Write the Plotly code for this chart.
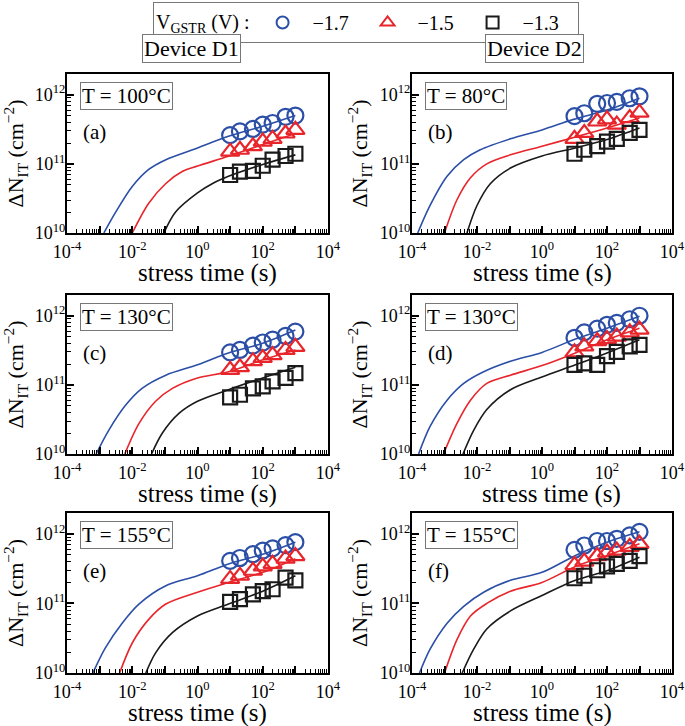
import numpy as np
import plotly.graph_objects as go
from plotly.subplots import make_subplots

# ---------------- data ----------------
t_meas = [10, 20, 50, 100, 200, 500, 1000]
voltages = ["−1.7", "−1.5", "−1.3"]
temps = ["T = 100°C", "T = 80°C", "T = 130°C", "T = 130°C", "T = 155°C", "T = 155°C"]
panel_tags = ["(a)", "(b)", "(c)", "(d)", "(e)", "(f)"]

# measured ΔN_IT (cm^-2): circle (-1.7 V), triangle (-1.5 V), square (-1.3 V)
a_circ = [2.6e11, 2.95e11, 3.2e11, 3.7e11, 3.9e11, 4.8e11, 5.0e11]
a_tri = [1.5e11, 1.6e11, 1.8e11, 2.1e11, 2.3e11, 2.75e11, 3.1e11]
a_sq = [6.9e10, 7.7e10, 7.9e10, 9.4e10, 1.15e11, 1.3e11, 1.4e11]
b_circ = [4.9e11, 5.4e11, 7.4e11, 7.6e11, 7.9e11, 8.9e11, 9.5e11]
b_tri = [2.3e11, 2.8e11, 4.1e11, 4.4e11, 3.7e11, 4.6e11, 5.5e11]
b_sq = [1.4e11, 1.6e11, 1.8e11, 2.1e11, 2.3e11, 2.8e11, 3.1e11]
c_circ = [2.95e11, 3.2e11, 3.7e11, 4.1e11, 4.5e11, 5.1e11, 5.9e11]
c_tri = [1.65e11, 1.8e11, 2.2e11, 2.45e11, 2.7e11, 3.2e11, 3.55e11]
c_sq = [6.6e10, 7.2e10, 8.9e10, 9.5e10, 1.12e11, 1.26e11, 1.48e11]
d_circ = [4.8e11, 5.75e11, 6.5e11, 7.4e11, 7.9e11, 8.9e11, 1.0e12]
d_tri = [2.95e11, 3.6e11, 4.3e11, 4.6e11, 5.0e11, 5.75e11, 6.3e11]
d_sq = [1.95e11, 2.05e11, 1.95e11, 2.6e11, 3.0e11, 3.6e11, 3.8e11]
e_circ = [4.1e11, 4.5e11, 5.1e11, 5.75e11, 6.2e11, 6.9e11, 7.6e11]
e_tri = [2.25e11, 2.5e11, 2.95e11, 3.4e11, 3.7e11, 4.4e11, 4.8e11]
e_sq = [1.05e11, 1.15e11, 1.35e11, 1.5e11, 1.6e11, 2.35e11, 2.15e11]
f_circ = [5.9e11, 6.8e11, 7.9e11, 7.9e11, 8.5e11, 9.5e11, 1.07e12]
f_tri = [3.55e11, 4.0e11, 4.8e11, 5.4e11, 5.75e11, 6.5e11, 7.2e11]
f_sq = [2.3e11, 2.5e11, 3.0e11, 3.4e11, 3.7e11, 4.1e11, 4.8e11]

# model curves (time s, ΔN_IT cm^-2)
a_blue_t = [1.35e-3, 3.1e-3, 1e-2, 3.2e-2, 0.107, 1, 8.9, 100, 1000]
a_blue_n = [1e10, 2.0e10, 4.7e10, 8.3e10, 1.15e11, 1.7e11, 2.5e11, 3.5e11, 5.0e11]
a_red_t = [1e-2, 3.2e-2, 0.107, 0.35, 1, 8.9, 100, 1000]
a_red_n = [1e10, 2.7e10, 5.2e10, 7.8e10, 9.3e10, 1.29e11, 1.9e11, 2.75e11]
a_blk_t = [0.093, 0.21, 1, 2.9, 8.9, 100, 1000]
a_blk_n = [1e10, 2.0e10, 3.8e10, 5.2e10, 6.6e10, 9.8e10, 1.35e11]

b_blue_t = [1.5e-4, 3.6e-4, 1.2e-3, 3.9e-3, 1.26e-2, 0.107, 1, 9.3, 100, 1000]
b_blue_n = [1e10, 2.5e10, 6.6e10, 1.15e11, 1.6e11, 2.3e11, 3.1e11, 4.4e11, 6.0e11, 8.9e11]
b_red_t = [1e-3, 2.4e-3, 6.3e-3, 2.0e-2, 0.107, 1, 10.7, 100, 1000]
b_red_n = [1e10, 3.0e10, 6.3e10, 1.0e11, 1.35e11, 1.8e11, 2.45e11, 3.3e11, 4.6e11]
b_blk_t = [4.9e-3, 1e-2, 2.6e-2, 0.107, 1, 10.7, 100, 1000]
b_blk_n = [1e10, 2.5e10, 5.2e10, 8.7e10, 1.3e11, 1.7e11, 2.25e11, 3.3e11]

c_blue_t = [7.8e-4, 1.9e-3, 6.3e-3, 2.0e-2, 0.107, 1, 8.9, 100, 1000]
c_blue_n = [1e10, 2.2e10, 5.1e10, 8.9e10, 1.38e11, 1.95e11, 2.9e11, 4.0e11, 6.2e11]
c_red_t = [5.9e-3, 1.6e-2, 5.2e-2, 0.17, 1, 8.9, 100, 1000]
c_red_n = [1e10, 2.75e10, 5.8e10, 8.9e10, 1.26e11, 1.55e11, 2.3e11, 3.2e11]
c_blk_t = [3.9e-2, 8.3e-2, 0.275, 1, 8.9, 100, 1000]
c_blk_n = [1e10, 2.0e10, 3.9e10, 5.8e10, 8.5e10, 1.26e11, 1.8e11]

d_blue_t = [1.6e-4, 3.6e-4, 1.2e-3, 3.9e-3, 1.6e-2, 0.107, 1, 10.7, 100, 1000]
d_blue_n = [1e10, 2.5e10, 6.0e10, 1.05e11, 1.55e11, 2.2e11, 2.95e11, 4.6e11, 6.6e11, 9.8e11]
d_red_t = [9.3e-4, 2.4e-3, 6.3e-3, 2.0e-2, 0.107, 1, 10.7, 100, 1000]
d_red_n = [1e10, 2.75e10, 6.0e10, 1.05e11, 1.38e11, 1.9e11, 2.9e11, 4.5e11, 6.6e11]
d_blk_t = [3.7e-3, 7.9e-3, 2.0e-2, 0.107, 1, 10.7, 100, 1000]
d_blk_n = [1e10, 2.2e10, 4.4e10, 8.5e10, 1.3e11, 1.95e11, 2.9e11, 4.5e11]

e_blue_t = [6.2e-4, 1.5e-3, 4.9e-3, 1.6e-2, 0.107, 1, 8.9, 100, 1000]
e_blue_n = [1e10, 2.3e10, 5.2e10, 9.8e10, 1.8e11, 2.5e11, 3.7e11, 5.1e11, 7.6e11]
e_red_t = [4.1e-3, 1e-2, 3.2e-2, 0.107, 1, 8.9, 100, 1000]
e_red_n = [1e10, 2.7e10, 5.9e10, 9.8e10, 1.45e11, 2.0e11, 2.8e11, 4.4e11]
e_blk_t = [2.6e-2, 5.2e-2, 0.17, 1, 8.9, 100, 1000]
e_blk_n = [1e10, 1.95e10, 3.8e10, 6.6e10, 9.8e10, 1.5e11, 2.5e11]

f_blue_t = [1.7e-4, 3.6e-4, 1.2e-3, 3.9e-3, 1.6e-2, 0.107, 1, 10.7, 100, 1000]
f_blue_n = [1e10, 2.2e10, 5.2e10, 9.1e10, 1.45e11, 2.15e11, 2.8e11, 4.9e11, 7.6e11, 1.07e12]
f_red_t = [1e-3, 2.4e-3, 6.3e-3, 2.0e-2, 0.107, 1, 10.7, 100, 1000]
f_red_n = [1e10, 3.0e10, 6.6e10, 1.0e11, 1.5e11, 2.0e11, 3.4e11, 4.9e11, 7.2e11]
f_blk_t = [3.5e-3, 7.9e-3, 2.0e-2, 0.107, 1, 10.7, 100, 1000]
f_blk_n = [1e10, 2.2e10, 4.3e10, 7.8e10, 1.3e11, 2.15e11, 2.95e11, 4.6e11]

x_tick_vals = [1e-4, 1e-3, 1e-2, 1e-1, 1, 10, 100, 1e3, 1e4]
x_tick_text = ["10<sup>-4</sup>", "", "10<sup>-2</sup>", "", "10<sup>0</sup>", "",
               "10<sup>2</sup>", "", "10<sup>4</sup>"]
y_tick_vals = [1e10, 1e11, 1e12]
y_tick_text = ["10<sup>10</sup>", "10<sup>11</sup>", "10<sup>12</sup>"]

# ---------------- styling ----------------
FONT = "Liberation Serif"
BLUE = "#2b4fa6"
RED = "#e8252b"
BLACK = "#1a1a1a"
colors = [BLUE, RED, BLACK]
symbols = ["circle-open", "triangle-up-open", "square-open"]
msizes = [16, 16, 14]
# horizontal shift (px) of each panel's x-axis title, as in the original layout
xtitle_shift = [10, 0, 10, 9, 0, 0]

panels = [
    (a_circ, a_tri, a_sq, [(a_blue_t, a_blue_n), (a_red_t, a_red_n), (a_blk_t, a_blk_n)]),
    (b_circ, b_tri, b_sq, [(b_blue_t, b_blue_n), (b_red_t, b_red_n), (b_blk_t, b_blk_n)]),
    (c_circ, c_tri, c_sq, [(c_blue_t, c_blue_n), (c_red_t, c_red_n), (c_blk_t, c_blk_n)]),
    (d_circ, d_tri, d_sq, [(d_blue_t, d_blue_n), (d_red_t, d_red_n), (d_blk_t, d_blk_n)]),
    (e_circ, e_tri, e_sq, [(e_blue_t, e_blue_n), (e_red_t, e_red_n), (e_blk_t, e_blk_n)]),
    (f_circ, f_tri, f_sq, [(f_blue_t, f_blue_n), (f_red_t, f_red_n), (f_blk_t, f_blk_n)]),
]

fig = make_subplots(rows=3, cols=2)

W, H = 685, 726
ML, MT = 67, 74
MR = W - 672
MB = H - 673
PW, PH = W - ML - MR, H - MT - MB

def px_x(x):
    return (x - ML) / PW

def px_y(y):
    return (H - MB - y) / PH

col_px = [(67, 328), (412, 672)]
row_px = [(74, 233), (295, 454), (513, 673)]

minor_x = [m * 10.0 ** k for k in range(-4, 4) for m in range(2, 10)]
minor_y = [m * 10.0 ** k for k in range(10, 12) for m in range(2, 10)]

for i, (circ, tri, sq, curves) in enumerate(panels):
    r, c = i // 2 + 1, i % 2 + 1
    # fit lines
    for j, (tt, nn) in enumerate(curves):
        fig.add_trace(go.Scatter(x=tt, y=nn, mode="lines",
                                 line=dict(color=colors[j], width=1.6, shape="spline", smoothing=0.9),
                                 showlegend=False, hoverinfo="skip"), row=r, col=c)
    # measured points
    for j, vals in enumerate([circ, tri, sq]):
        fig.add_trace(go.Scatter(x=t_meas, y=vals, mode="markers",
                                 marker=dict(symbol=symbols[j], size=msizes[j], color=colors[j],
                                             line=dict(width=2.2, color=colors[j])),
                                 name="\u2002" + voltages[j], showlegend=(i == 0)), row=r, col=c)

    xname = "xaxis" if i == 0 else f"xaxis{i+1}"
    yname = "yaxis" if i == 0 else f"yaxis{i+1}"
    x0, x1 = col_px[c - 1]
    y0, y1 = row_px[r - 1]
    fig.layout[xname].update(
        type="log", range=[-4, 4], domain=[px_x(x0), px_x(x1)],
        tickmode="array", tickvals=x_tick_vals, ticktext=x_tick_text,
        ticks="inside", ticklen=7, tickwidth=1.5, tickcolor="black",
        ticklabelstandoff=1,
        minor=dict(tickmode="array", tickvals=minor_x, ticks="inside", ticklen=4,
                   tickwidth=1.2, tickcolor="black", showgrid=False),
        showline=True, linecolor="black", linewidth=2, mirror=True,
        showgrid=False, zeroline=False,
        tickfont=dict(family=FONT, size=18, color="black"),
    )
    fig.layout[yname].update(
        type="log", range=[10, 12.3], domain=[px_y(y1), px_y(y0)],
        tickmode="array", tickvals=y_tick_vals, ticktext=y_tick_text,
        ticks="inside", ticklen=7, tickwidth=1.5, tickcolor="black",
        ticklabelstandoff=-4,
        minor=dict(tickmode="array", tickvals=minor_y, ticks="inside", ticklen=4,
                   tickwidth=1.2, tickcolor="black", showgrid=False),
        showline=True, linecolor="black", linewidth=2, mirror=True,
        showgrid=False, zeroline=False,
        tickfont=dict(family=FONT, size=18, color="black"),
        title=dict(text="ΔN<sub>IT</sub> (cm<sup>−2</sup>)", font=dict(family=FONT, size=22, color="black"),
                   standoff=6),
    )
    xr = "x domain" if i == 0 else f"x{i+1} domain"
    yr = "y domain" if i == 0 else f"y{i+1} domain"
    # x-axis title placed below tick labels
    fig.add_annotation(text="stress time (s)", xref=xr, yref=yr,
                       x=0.5 + xtitle_shift[i] / (x1 - x0), y=-40 / (y1 - y0),
                       xanchor="center", yanchor="middle", showarrow=False,
                       font=dict(family=FONT, size=25, color="black"))
    fig.add_annotation(text=temps[i], xref=xr, yref=yr, x=0.05, y=0.95,
                       xanchor="left", yanchor="top", showarrow=False,
                       font=dict(family=FONT, size=21, color="black"),
                       bordercolor="#777777", borderwidth=1, borderpad=1, bgcolor="white")
    fig.add_annotation(text=panel_tags[i], xref=xr, yref=yr, x=0.055, y=0.635,
                       xanchor="left", yanchor="middle", showarrow=False,
                       font=dict(family=FONT, size=21, color="black"))

# device labels
for txt, cx in [("Device D1", 191), ("Device D2", 534)]:
    fig.add_annotation(text=txt, xref="paper", yref="paper", x=px_x(cx), y=px_y(49),
                       xanchor="center", yanchor="middle", showarrow=False,
                       font=dict(family=FONT, size=22, color="black"),
                       bordercolor="#777777", borderwidth=1, borderpad=1, bgcolor="white")

fig.update_layout(
    width=W, height=H,
    margin=dict(l=ML, r=MR, t=MT, b=MB, autoexpand=False),
    plot_bgcolor="white", paper_bgcolor="white",
    font=dict(family=FONT, color="black"),
    legend=dict(orientation="h", x=px_x(366), xanchor="center", y=px_y(2), yanchor="top",
                title=dict(text="V<sub>GSTR</sub> (V) : ", font=dict(family=FONT, size=20)),
                font=dict(family=FONT, size=20, color="black"),
                bordercolor="#777777", borderwidth=1, bgcolor="white",
                entrywidth=60, entrywidthmode="pixels", itemsizing="constant",
                tracegroupgap=0),
)

# the page's default body margin would offset the figure; remove it
fig.write_html("out.html", config={"displayModeBar": False},
               post_script="document.body.style.margin='0px';")
